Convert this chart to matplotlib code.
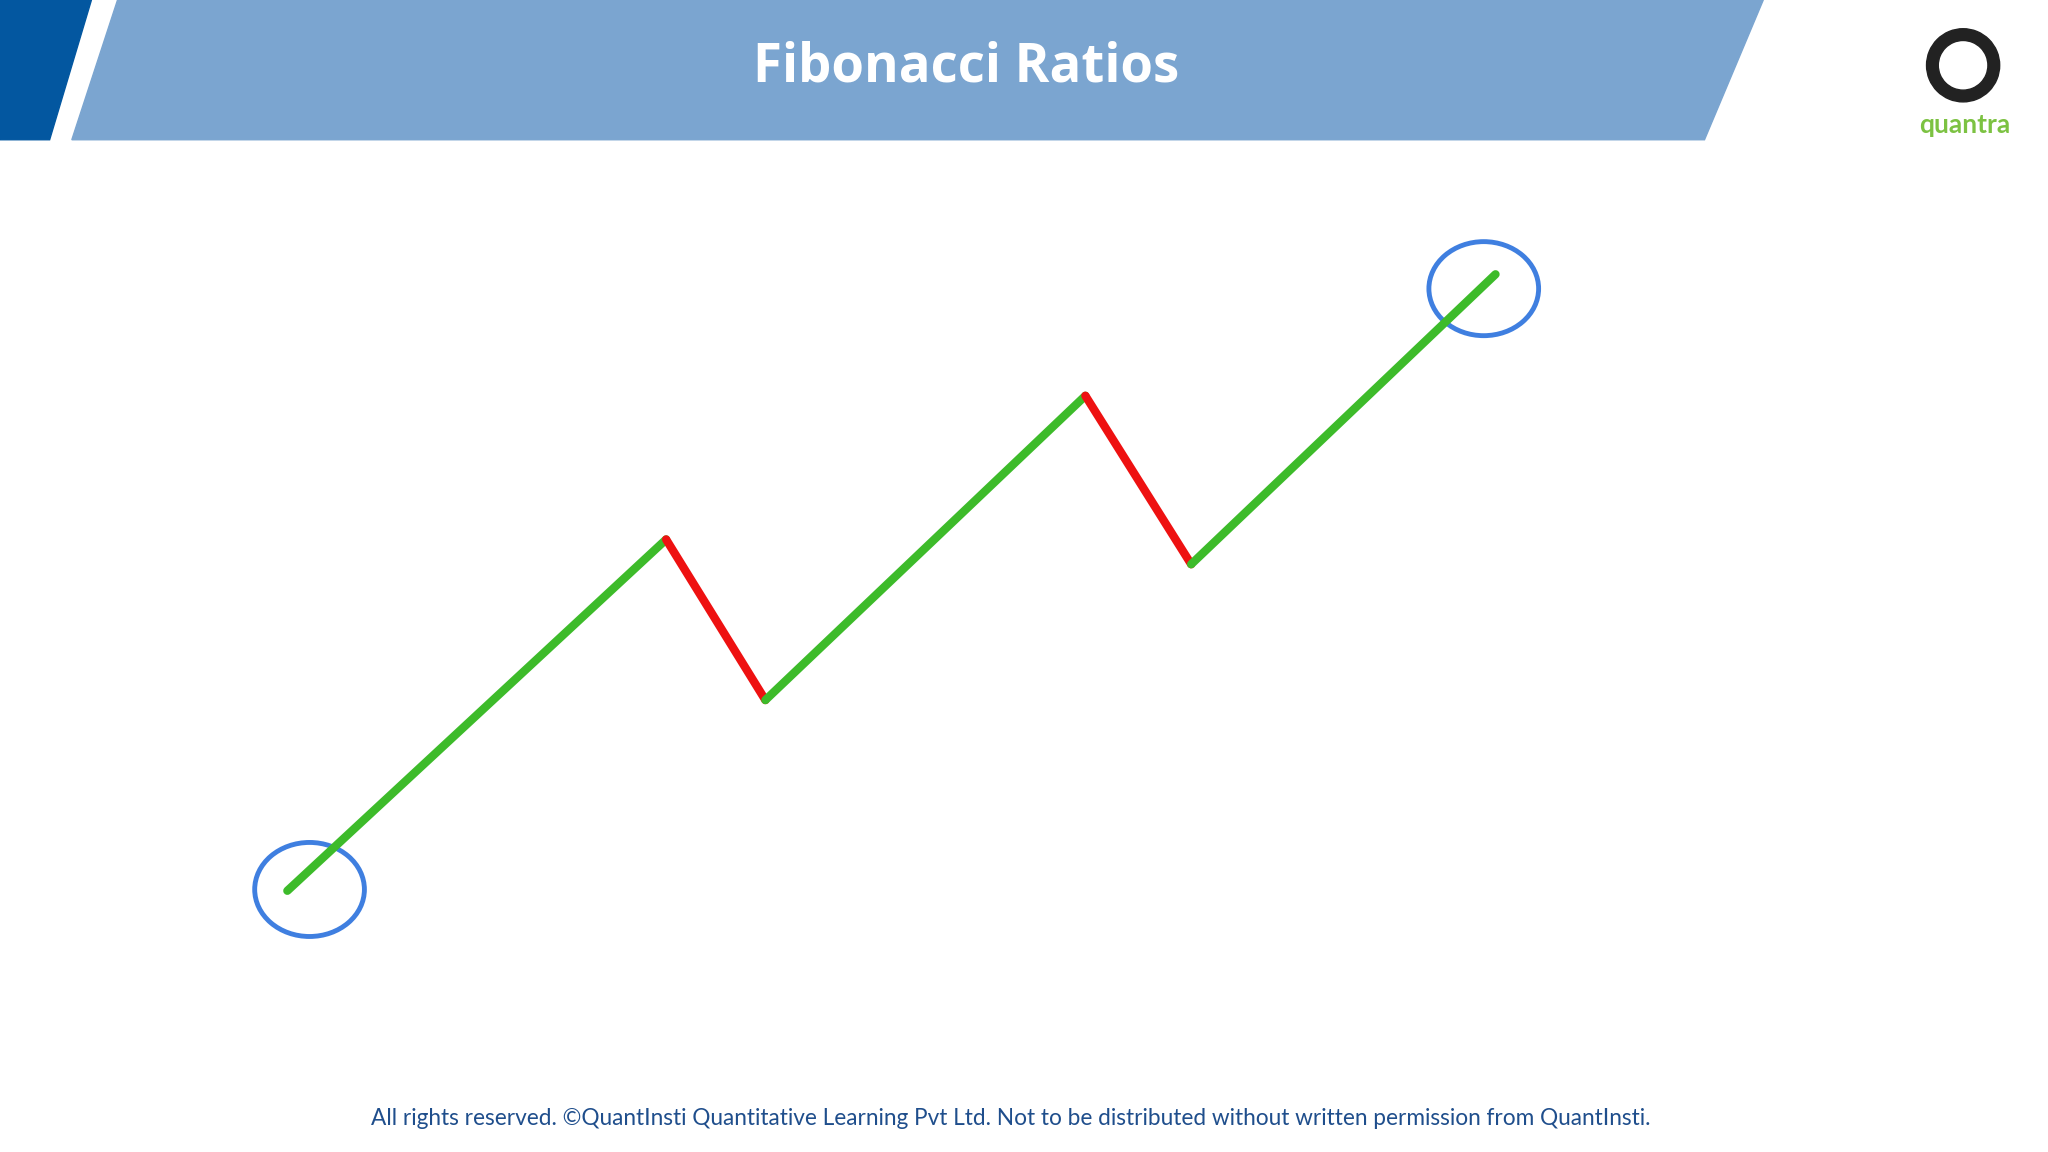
import matplotlib
matplotlib.use("Agg")
import matplotlib.pyplot as plt
from matplotlib.patches import Polygon, Ellipse, Wedge

# zigzag swing points (x, price-level in image units)
xs = [220, 510, 586, 831, 912, 1145]
ys = [682, 413, 536, 303, 432, 210]
seg_colors = ["#3DBB2A", "#EE1111", "#3DBB2A", "#EE1111", "#3DBB2A"]
circle_centers = [(237, 681), (1136, 221)]

fig = plt.figure(figsize=(20.48, 11.52), dpi=100)
ax = fig.add_axes([0, 0, 1, 1])
ax.set_xlim(0, 1568)
ax.set_ylim(882, 0)
ax.axis("off")

ax.add_patch(Polygon([(0, 0), (70, 0), (38, 107), (0, 107)], color="#0357A0"))
ax.add_patch(Polygon([(90, 0), (1350, 0), (1305, 107), (55, 107)], color="#7BA5D0"))
ax.text(740, 52, "Fibonacci Ratios", color="white", fontsize=38, fontweight="bold",
        family="Open Sans", ha="center", va="center")

for i in range(len(xs) - 1):
    ax.plot(xs[i:i+2], ys[i:i+2], color=seg_colors[i], lw=6, solid_capstyle="round")
for cx, cy in circle_centers:
    ax.add_patch(Ellipse((cx, cy), 84, 72, fill=False, ec="#3F7FE0", lw=3.5))

# logo
ax.add_patch(Wedge((1503, 50), 28, 0, 360, width=9, color="#222222"))
ax.text(1504, 96, "quantra", color="#7CC242", fontsize=19, fontweight="bold",
        family="Lato", ha="center", va="center")

ax.text(774, 856, "All rights reserved. ©QuantInsti Quantitative Learning Pvt Ltd. Not to be distributed without written permission from QuantInsti.",
        color="#1F4E8C", fontsize=16.3, family="Lato", ha="center", va="center")

fig.savefig("out.png", dpi=100, facecolor="white")
